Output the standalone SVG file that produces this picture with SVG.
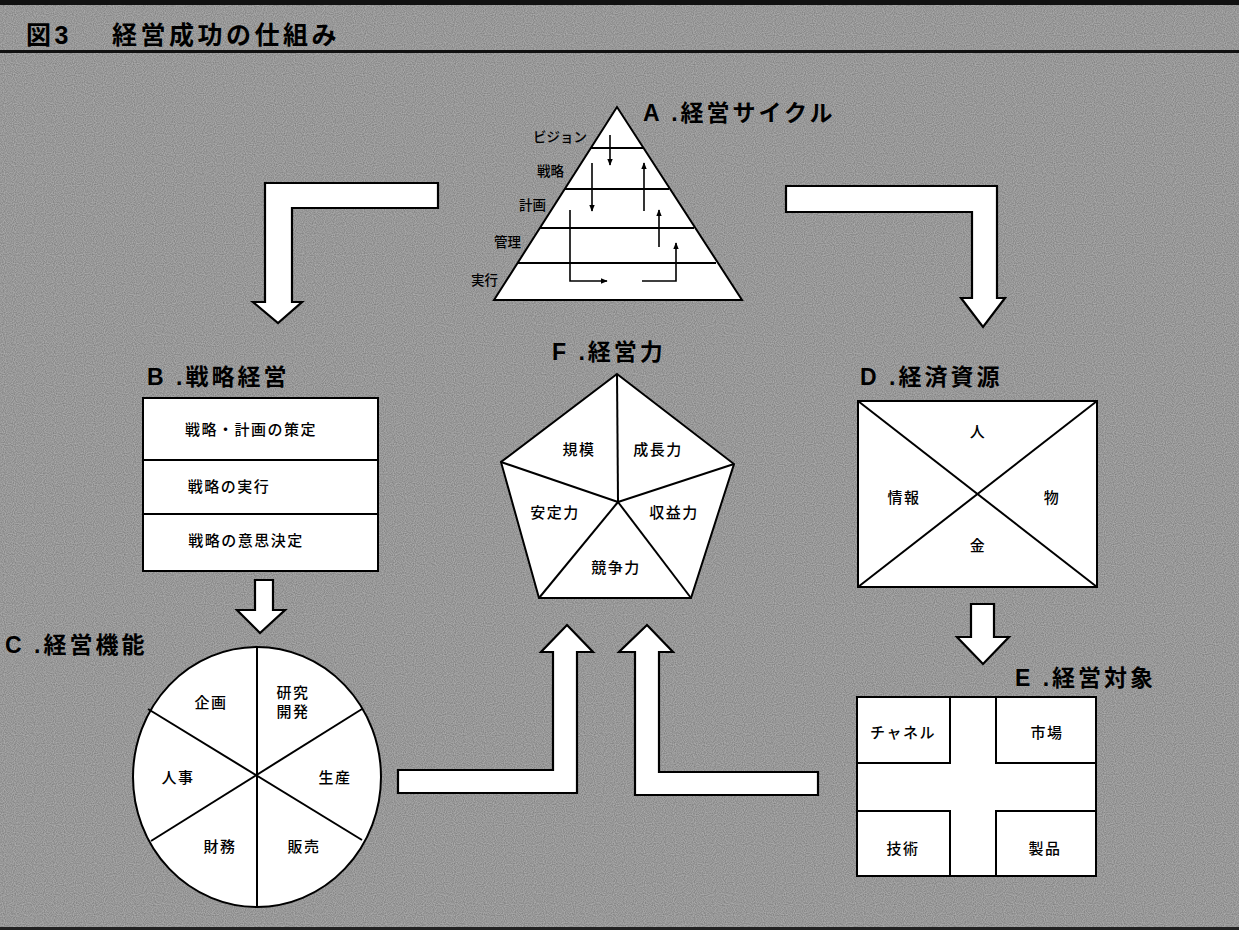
<svg xmlns="http://www.w3.org/2000/svg" width="1239" height="930" viewBox="0 0 1239 930">
<style>
.bg{fill:#aaaaaa}
.shape{fill:#fff;stroke:#000;stroke-width:2}
.ln{stroke:#000;stroke-width:2;fill:none}
.thin{stroke:#000;stroke-width:1.6;fill:none}
.blk{fill:#fff;stroke:#000;stroke-width:2.2;stroke-linejoin:miter}
.head{font-family:"Liberation Sans","Noto Sans CJK JP",sans-serif;font-size:23px;font-weight:bold;fill:#000;letter-spacing:3px}
.title{font-family:"Liberation Sans","Noto Sans CJK JP",sans-serif;font-size:25px;font-weight:bold;fill:#000;letter-spacing:3.5px}
.lbl{font-family:"Noto Sans CJK JP",sans-serif;font-size:15px;font-weight:500;fill:#000;letter-spacing:1.5px;text-anchor:middle}
.plbl{font-family:"Noto Sans CJK JP",sans-serif;font-size:13.5px;font-weight:500;fill:#000;text-anchor:end}
</style>
<defs>
<filter id="grain" x="0" y="0" width="100%" height="100%">
<feTurbulence type="fractalNoise" baseFrequency="0.9" numOctaves="1" seed="3" result="n"/>
<feColorMatrix type="matrix" values="0 0 0 0 0  0 0 0 0 0  0 0 0 0 0  0 0 0 -1.4 1.05" in="n"/>
</filter>
<marker id="ah" viewBox="0 0 10 10" refX="9" refY="5" markerWidth="7" markerHeight="7" orient="auto" markerUnits="userSpaceOnUse">
<path d="M0,1 L10,5 L0,9 Z" fill="#000"/>
</marker>
</defs>
<rect class="bg" x="0" y="0" width="1239" height="930"/>
<rect x="0" y="0" width="1239" height="930" filter="url(#grain)" opacity="0.3"/>
<rect x="0" y="0" width="1239" height="5" fill="#111"/>
<rect x="0" y="50" width="1239" height="3" fill="#111"/>
<rect x="0" y="927" width="1239" height="3" fill="#222"/>
<text class="title" x="26" y="44">図3</text>
<text class="title" x="112" y="44">経営成功の仕組み</text>

<g id="connectors">
<path class="blk" d="M438,183 L265,183 L265,302 L253,302 L278,323 L302,302 L292,302 L292,208 L438,208 Z"/>
<path class="blk" d="M786,186 L997,186 L997,298 L1005,298 L983,327 L961,298 L972,298 L972,212 L786,212 Z"/>
<path class="blk" d="M255,580 L273,580 L273,610 L285,610 L260,633 L237,610 L255,610 Z"/>
<path class="blk" d="M971,604 L994,604 L994,637 L1009,637 L983,664 L957,637 L971,637 Z"/>
<path class="blk" d="M398,770 L553,770 L553,652 L541,652 L567,625 L593,652 L577,652 L577,793 L398,793 Z"/>
<path class="blk" d="M818,772 L659,772 L659,652 L673,652 L647,625 L619,652 L635,652 L635,795 L818,795 Z"/>
</g>

<g id="nodeA">
<text class="head" x="643" y="121">A .経営サイクル</text>
<polygon class="shape" points="617,107 494,300 742,300"/>
<line class="ln" x1="591" y1="148" x2="643" y2="148"/>
<line class="ln" x1="565" y1="189" x2="669" y2="189"/>
<line class="ln" x1="540" y1="228" x2="694" y2="228"/>
<line class="ln" x1="518" y1="263" x2="716" y2="263"/>
<text class="plbl" x="587" y="142">ビジョン</text>
<text class="plbl" x="564" y="176">戦略</text>
<text class="plbl" x="546" y="210">計画</text>
<text class="plbl" x="521" y="247">管理</text>
<text class="plbl" x="498" y="285">実行</text>
<line class="thin" x1="610" y1="135" x2="610" y2="165" marker-end="url(#ah)"/>
<line class="thin" x1="592" y1="163" x2="592" y2="211" marker-end="url(#ah)"/>
<line class="thin" x1="644" y1="211" x2="644" y2="163" marker-end="url(#ah)"/>
<line class="thin" x1="659" y1="247" x2="659" y2="210" marker-end="url(#ah)"/>
<polyline class="thin" points="570,210 570,281 607,281" marker-end="url(#ah)"/>
<polyline class="thin" points="642,281 676,281 676,243" marker-end="url(#ah)"/>
</g>

<g id="nodeB">
<text class="head" x="147" y="385">B .戦略経営</text>
<rect class="shape" x="143" y="398" width="235" height="173"/>
<line class="ln" x1="143" y1="460" x2="378" y2="460"/>
<line class="ln" x1="143" y1="514" x2="378" y2="514"/>
<text class="lbl" x="251" y="435">戦略・計画の策定</text>
<text class="lbl" x="229" y="492">戦略の実行</text>
<text class="lbl" x="246" y="546">戦略の意思決定</text>
</g>

<g id="nodeC">
<text class="head" x="5" y="653">C .経営機能</text>
<ellipse class="shape" cx="257" cy="777" rx="124" ry="130"/>
<line class="ln" x1="257" y1="647" x2="257" y2="907"/>
<line class="ln" x1="148" y1="709" x2="362" y2="840"/>
<line class="ln" x1="362" y1="709" x2="151" y2="841"/>
<text class="lbl" x="211" y="708">企画</text>
<text class="lbl" x="293" y="698">研究</text>
<text class="lbl" x="293" y="717">開発</text>
<text class="lbl" x="178" y="783">人事</text>
<text class="lbl" x="335" y="783">生産</text>
<text class="lbl" x="220" y="852">財務</text>
<text class="lbl" x="304" y="852">販売</text>
</g>

<g id="nodeF">
<text class="head" x="552" y="360">F .経営力</text>
<polygon class="shape" points="617,374 734,464 691,598 539,598 501,462"/>
<line class="ln" x1="618" y1="502" x2="617" y2="374"/>
<line class="ln" x1="618" y1="502" x2="734" y2="464"/>
<line class="ln" x1="618" y1="502" x2="691" y2="598"/>
<line class="ln" x1="618" y1="502" x2="539" y2="598"/>
<line class="ln" x1="618" y1="502" x2="501" y2="462"/>
<text class="lbl" x="579" y="455">規模</text>
<text class="lbl" x="658" y="455">成長力</text>
<text class="lbl" x="555" y="518">安定力</text>
<text class="lbl" x="674" y="518">収益力</text>
<text class="lbl" x="616" y="573">競争力</text>
</g>

<g id="nodeD">
<text class="head" x="860" y="385">D .経済資源</text>
<rect class="shape" x="858" y="401" width="239" height="186"/>
<line class="ln" x1="858" y1="401" x2="1097" y2="587"/>
<line class="ln" x1="1097" y1="401" x2="858" y2="587"/>
<text class="lbl" x="978" y="437">人</text>
<text class="lbl" x="904" y="503">情報</text>
<text class="lbl" x="1052" y="503">物</text>
<text class="lbl" x="978" y="551">金</text>
</g>

<g id="nodeE">
<text class="head" x="1015" y="686">E .経営対象</text>
<rect class="shape" x="857" y="697" width="239" height="179"/>
<rect class="shape" x="857" y="697" width="93" height="66"/>
<rect class="shape" x="996" y="697" width="100" height="66"/>
<rect class="shape" x="857" y="811" width="93" height="65"/>
<rect class="shape" x="996" y="811" width="100" height="65"/>
<text class="lbl" x="903" y="738">チャネル</text>
<text class="lbl" x="1047" y="738">市場</text>
<text class="lbl" x="903" y="854">技術</text>
<text class="lbl" x="1045" y="854">製品</text>
</g>
</svg>
